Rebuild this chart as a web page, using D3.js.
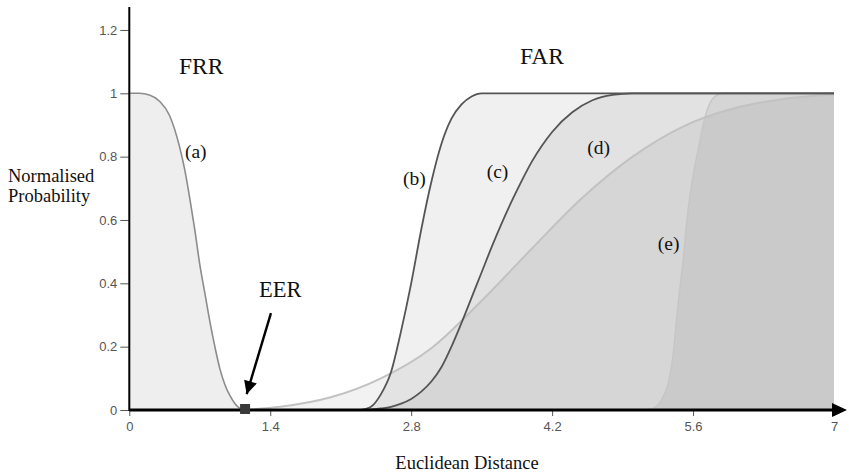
<!DOCTYPE html>
<html>
<head>
<meta charset="utf-8">
<script src="https://cdn.jsdelivr.net/npm/d3@7"></script>
<style>
  body { margin: 0; background: #fff; }
  .tick text { font-family: "Liberation Sans", Arial, sans-serif; font-size: 13px; fill: #555; }
  .serif { font-family: "Liberation Serif", "Times New Roman", serif; fill: #111; }
</style>
</head>
<body>
<svg id="chart" width="849" height="475"></svg>
<script>
// values
var xTicks = [0, 1.4, 2.8, 4.2, 5.6, 7];
var yTicks = [0, 0.2, 0.4, 0.6, 0.8, 1, 1.2];

var frrX = [0, 0.1, 0.2, 0.3, 0.4, 0.5, 0.55, 0.6, 0.65, 0.7, 0.75, 0.8, 0.85, 0.9, 0.95, 1.0, 1.05, 1.1, 1.15];
var frrY = [1, 1, 0.995, 0.975, 0.93, 0.83, 0.76, 0.67, 0.57, 0.46, 0.37, 0.28, 0.2, 0.13, 0.08, 0.045, 0.02, 0.005, 0];

var farBX = [2.3, 2.4, 2.5, 2.6, 2.7, 2.8, 2.9, 3.0, 3.1, 3.2, 3.3, 3.4, 3.5, 7];
var farBY = [0, 0.01, 0.05, 0.12, 0.25, 0.4, 0.57, 0.72, 0.84, 0.92, 0.965, 0.99, 1, 1];

var farCX = [2.3, 2.4, 2.5, 2.6, 2.7, 2.8, 2.9, 3.0, 3.1, 3.2, 3.3, 3.4, 3.5, 3.6, 3.7, 3.8, 3.9, 4.0, 4.1, 4.2, 4.4, 4.6, 4.8, 5.0, 7];
var farCY = [0, 0.002, 0.005, 0.01, 0.02, 0.035, 0.058, 0.09, 0.135, 0.2, 0.275, 0.355, 0.435, 0.515, 0.59, 0.66, 0.725, 0.785, 0.835, 0.878, 0.94, 0.978, 0.995, 1, 1];

var farDX = [1.15, 1.5, 2.0, 2.5, 3.0, 3.5, 4.0, 4.5, 5.0, 5.5, 6.0, 6.5, 7.0];
var farDY = [0, 0.01, 0.04, 0.1, 0.195, 0.345, 0.51, 0.67, 0.8, 0.895, 0.952, 0.982, 0.996];

var farEX = [5.1, 5.2, 5.3, 5.35, 5.4, 5.45, 5.5, 5.55, 5.6, 5.65, 5.7, 5.75, 5.8, 5.9, 7];
var farEY = [0, 0.005, 0.04, 0.08, 0.17, 0.33, 0.47, 0.63, 0.74, 0.82, 0.9, 0.955, 0.985, 1, 1];

var curveNames = ["(a)", "(b)", "(c)", "(d)", "(e)"];
var curveLabelX = [0.553, 2.718, 3.55, 4.55, 5.25];
var curveLabelY = [0.796, 0.71, 0.733, 0.808, 0.505];

var eerX = 1.15;
var arrowFrom = [1.407, 0.306];
var arrowTo = [1.166, 0.05];

var svg = d3.select("#chart");

var xScale = d3.scaleLinear().domain([0, 7]).range([129.3, 834]);
var yScale = d3.scaleLinear().domain([0, 1.27]).range([410, 7.8]);

function zip(xs, ys) {
  return xs.map(function (x, i) { return [x, ys[i]]; });
}

var area = d3.area()
  .x(function (d) { return xScale(d[0]); })
  .y0(yScale(0))
  .y1(function (d) { return yScale(d[1]); })
  .curve(d3.curveMonotoneX);

var line = d3.line()
  .x(function (d) { return xScale(d[0]); })
  .y(function (d) { return yScale(d[1]); })
  .curve(d3.curveMonotoneX);

var series = [
  { pts: zip(frrX, frrY), stroke: "#8c8c8c", width: 1.6, alpha: 0.066 },
  { pts: zip(farBX, farBY), stroke: "#555", width: 1.8, alpha: 0.058 },
  { pts: zip(farCX, farCY), stroke: "#555", width: 1.8, alpha: 0.055 },
  { pts: zip(farDX, farDY), stroke: "#c2c2c2", width: 2, alpha: 0.05 },
  { pts: zip(farEX, farEY), stroke: "#c6c6c6", width: 1.5, alpha: 0.055 }
];

// fills first, then strokes on top
svg.selectAll("path.fill").data(series).enter().append("path")
  .attr("class", "fill")
  .attr("d", function (s) { return area(s.pts); })
  .attr("fill", "#000")
  .attr("fill-opacity", function (s) { return s.alpha; });

svg.selectAll("path.curve").data(series.slice().reverse()).enter().append("path")
  .attr("class", "curve")
  .attr("d", function (s) { return line(s.pts); })
  .attr("fill", "none")
  .attr("stroke", function (s) { return s.stroke; })
  .attr("stroke-width", function (s) { return s.width; });

// axes
var yAxis = d3.axisLeft(yScale).tickValues(yTicks).tickSize(9).tickPadding(3)
  .tickFormat(function (d) { return d; });
var yg = svg.append("g").attr("transform", "translate(129.3,0)").call(yAxis);
yg.select(".domain").remove();
yg.selectAll(".tick line").attr("stroke", "#555");

var xAxis = d3.axisBottom(xScale).tickValues(xTicks).tickSize(6).tickPadding(6)
  .tickFormat(function (d) { return d; });
var xg = svg.append("g").attr("transform", "translate(0,410)").call(xAxis);
xg.select(".domain").remove();
xg.selectAll(".tick line").attr("stroke", "#555");

svg.append("line")
  .attr("x1", xScale(0)).attr("x2", xScale(0))
  .attr("y1", yScale(0) + 1).attr("y2", 7)
  .attr("stroke", "#000").attr("stroke-width", 2);

svg.append("line")
  .attr("x1", xScale(0)).attr("x2", 836)
  .attr("y1", yScale(0)).attr("y2", yScale(0))
  .attr("stroke", "#000").attr("stroke-width", 3);

svg.append("path")
  .attr("d", "M832," + (yScale(0) - 7) + "L847," + yScale(0) + "L832," + (yScale(0) + 7) + "Z")
  .attr("fill", "#000");

// EER marker and arrow
svg.append("rect")
  .attr("x", xScale(eerX) - 5).attr("y", yScale(0) - 6)
  .attr("width", 10).attr("height", 10)
  .attr("fill", "#3a3a3a");

svg.append("defs").append("marker")
  .attr("id", "head")
  .attr("viewBox", "0 0 10 10")
  .attr("refX", 10).attr("refY", 5)
  .attr("markerWidth", 6).attr("markerHeight", 5.5)
  .attr("markerUnits", "strokeWidth")
  .attr("orient", "auto")
  .append("path").attr("d", "M0,0L10,5L0,10Z").attr("fill", "#000");

svg.append("line")
  .attr("x1", xScale(arrowFrom[0])).attr("y1", yScale(arrowFrom[1]))
  .attr("x2", xScale(arrowTo[0])).attr("y2", yScale(arrowTo[1]))
  .attr("stroke", "#000").attr("stroke-width", 2.4)
  .attr("marker-end", "url(#head)");

// texts
svg.selectAll("text.clabel").data(curveNames).enter().append("text")
  .attr("class", "clabel serif")
  .attr("x", function (d, i) { return xScale(curveLabelX[i]); })
  .attr("y", function (d, i) { return yScale(curveLabelY[i]); })
  .attr("font-size", 19.5)
  .text(function (d) { return d; });

svg.append("text").attr("class", "serif").attr("x", 179).attr("y", 74)
  .attr("font-size", 23.5).text("FRR");
svg.append("text").attr("class", "serif").attr("x", 520).attr("y", 64)
  .attr("font-size", 23.5).text("FAR");
svg.append("text").attr("class", "serif").attr("x", 259).attr("y", 297)
  .attr("font-size", 22.5).text("EER");

svg.append("text").attr("class", "serif").attr("x", 8).attr("y", 182)
  .attr("font-size", 18.5).text("Normalised");
svg.append("text").attr("class", "serif").attr("x", 8).attr("y", 202)
  .attr("font-size", 18.5).text("Probability");
svg.append("text").attr("class", "serif").attr("x", 467).attr("y", 469)
  .attr("text-anchor", "middle").attr("font-size", 18.5).text("Euclidean Distance");
</script>
</body>
</html>
